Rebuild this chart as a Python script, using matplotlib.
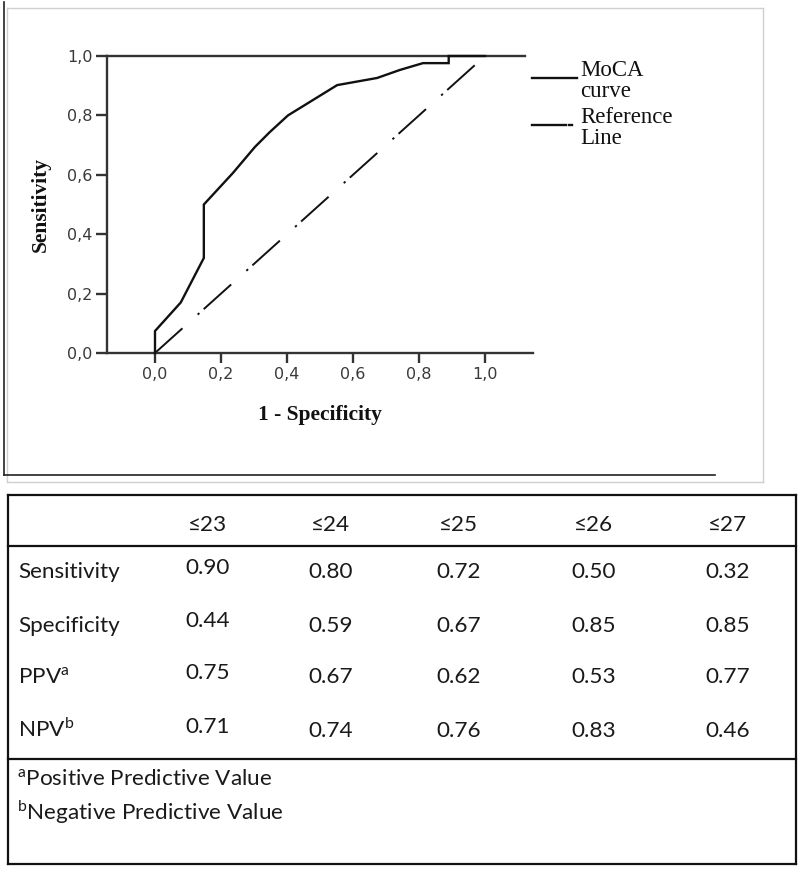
import matplotlib
matplotlib.use("Agg")
import matplotlib.pyplot as plt
from matplotlib.lines import Line2D
from matplotlib.ticker import FuncFormatter, FixedLocator

# ---------------- data ----------------
fpr = [0.0, 0.0, 0.078, 0.148, 0.148, 0.236, 0.303, 0.348, 0.403, 0.479,
       0.552, 0.673, 0.742, 0.812, 0.890, 0.890, 1.0]
tpr = [0.0, 0.074, 0.170, 0.320, 0.500, 0.606, 0.694, 0.744, 0.800, 0.852,
       0.902, 0.926, 0.953, 0.976, 0.976, 1.0, 1.0]
ref_x = [0.0, 1.0]
ref_y = [0.0, 1.0]
x_ticks = [0.0, 0.2, 0.4, 0.6, 0.8, 1.0]
y_ticks = [0.0, 0.2, 0.4, 0.6, 0.8, 1.0]

cutoffs = ['≤23', '≤24', '≤25', '≤26', '≤27']
row_names = ['Sensitivity', 'Specificity', 'PPV', 'NPV']
row_sups = ['', '', 'a', 'b']
sensitivity = [0.90, 0.80, 0.72, 0.50, 0.32]
specificity = [0.44, 0.59, 0.67, 0.85, 0.85]
ppv = [0.75, 0.67, 0.62, 0.53, 0.77]
npv = [0.71, 0.74, 0.76, 0.83, 0.46]
footnotes = [('a', 'Positive Predictive Value'), ('b', 'Negative Predictive Value')]

# ---------------- figure ----------------
W, H = 800, 869
plt.rcParams['mathtext.fontset'] = 'custom'
plt.rcParams['mathtext.rm'] = 'Lato'
fig = plt.figure(figsize=(W / 100, H / 100), dpi=100)
fig.patch.set_facecolor('white')


def fx(px):
    return px / W


def fy(py):
    return 1 - py / H


def hline(x0, x1, y, **kw):
    fig.add_artist(Line2D([fx(x0), fx(x1)], [fy(y), fy(y)], transform=fig.transFigure, **kw))


def vline(x, y0, y1, **kw):
    fig.add_artist(Line2D([fx(x), fx(x)], [fy(y0), fy(y1)], transform=fig.transFigure, **kw))


# outer frames of chart image
gray = dict(color='#cfcfcf', lw=1.0)
hline(7, 763, 8, **gray)
hline(7, 763, 482, **gray)
vline(7, 8, 482, **gray)
vline(763, 8, 482, **gray)
dark = dict(color='#222222', lw=1.2)
vline(4, 2, 475, **dark)
hline(4, 715, 475, **dark)

# ---------------- ROC axes ----------------
ax_left, ax_right, ax_top, ax_bot = 107, 533, 56, 353
ax = fig.add_axes([fx(ax_left), fy(ax_bot), (ax_right - ax_left) / W, (ax_bot - ax_top) / H])
ax.set_facecolor('none')
scale = 330.0
xlim = ((ax_left - 155) / scale, (ax_right - 155) / scale)
ax.set_xlim(*xlim)
ax.set_ylim(0, 1)

spine_col = '#333333'
for s in ['left', 'bottom', 'top']:
    ax.spines[s].set_color(spine_col)
    ax.spines[s].set_linewidth(1.7)
ax.spines['right'].set_visible(False)
ax.spines['top'].set_bounds(xlim[0], (525 - 155) / scale)

ax.plot(fpr, tpr, color='#111111', lw=1.7, solid_joinstyle='miter', clip_on=False, zorder=3)
lw_ref = 1.4
ax.plot(ref_x, ref_y, color='#111111', lw=lw_ref,
        linestyle=(0, (19.0, 10.5, 1.2, 3.0)), clip_on=False, zorder=2)

ax.xaxis.set_major_locator(FixedLocator(x_ticks))
ax.yaxis.set_major_locator(FixedLocator(y_ticks))
fmt = FuncFormatter(lambda v, p: f'{v:.1f}'.replace('.', ','))
ax.xaxis.set_major_formatter(fmt)
ax.yaxis.set_major_formatter(fmt)
ax.tick_params(axis='y', direction='out', length=7.9, width=1.7, color=spine_col,
               pad=2.5, labelsize=11.5, labelcolor='#3a3a3a')
ax.tick_params(axis='x', direction='out', length=7.2, width=1.7, color=spine_col,
               pad=3.2, labelsize=11.5, labelcolor='#3a3a3a')
for lab in ax.get_xticklabels() + ax.get_yticklabels():
    lab.set_family('DejaVu Sans')

fig.text(fx(320), fy(420), '1 - Specificity', family='Liberation Serif', weight='bold',
         fontsize=15.5, ha='center', va='baseline', color='#111111')
fig.text(fx(41), fy(204.5), 'Sensitivity', family='Liberation Serif', weight='bold',
         fontsize=15.5, ha='center', va='center', rotation=90, color='#111111')

# legend (manual)
fig.add_artist(Line2D([fx(532), fx(577)], [fy(78), fy(78)], transform=fig.transFigure,
                      color='#111111', lw=1.7))
fig.add_artist(Line2D([fx(532), fx(566)], [fy(125), fy(125)], transform=fig.transFigure,
                      color='#111111', lw=1.7))
fig.add_artist(Line2D([fx(569), fx(572)], [fy(125), fy(125)], transform=fig.transFigure,
                      color='#111111', lw=1.7))
leg_kw = dict(family='Liberation Serif', fontsize=16.5, ha='left', va='baseline', color='#111111')
fig.text(fx(580), fy(76), 'MoCA', **leg_kw)
fig.text(fx(580), fy(97), 'curve', **leg_kw)
fig.text(fx(580), fy(123), 'Reference', **leg_kw)
fig.text(fx(580), fy(144), 'Line', **leg_kw)

# ---------------- table ----------------
tb = dict(color='#111111', lw=1.6)
t_left, t_right, t_top, t_bot = 7.5, 795.5, 495, 864
hline(t_left, t_right, t_top, **tb)
hline(t_left, t_right, t_bot, **tb)
hline(t_left, t_right, 546, **tb)
hline(t_left, t_right, 759, **tb)
vline(t_left, t_top, t_bot, **tb)
vline(t_right, t_top, t_bot, **tb)

col_x = [208, 330.5, 458.5, 593.5, 728]
tfam = ['Lato', 'DejaVu Sans']
tsize = 16.2
tcol = '#1a1a1a'
for cx, c in zip(col_x, cutoffs):
    fig.text(fx(cx), fy(530.7), c, family=tfam, fontsize=tsize, ha='center', va='baseline', color=tcol)

rows = [sensitivity, specificity, ppv, npv]
base_y = [578.3, 631.7, 683.3, 737.3]
for name, sup, vals, by in zip(row_names, row_sups, rows, base_y):
    label = name if not sup else name + r'$^{\mathrm{' + sup + '}}$'
    fig.text(fx(18), fy(by), label, family=tfam, fontsize=tsize, ha='left', va='baseline', color=tcol)
    for i, (cx, v) in enumerate(zip(col_x, vals)):
        yy = by - 4.3 if i == 0 else by
        fig.text(fx(cx), fy(yy), f'{v:.2f}', family=tfam, fontsize=tsize, ha='center',
                 va='baseline', color=tcol)

for (sup, txt), by in zip(footnotes, [786, 820]):
    fig.text(fx(17), fy(by), r'$^{\mathrm{' + sup + '}}$' + txt, family=tfam, fontsize=tsize,
             ha='left', va='baseline', color=tcol)

fig.savefig('out.png', dpi=100, facecolor='white')
